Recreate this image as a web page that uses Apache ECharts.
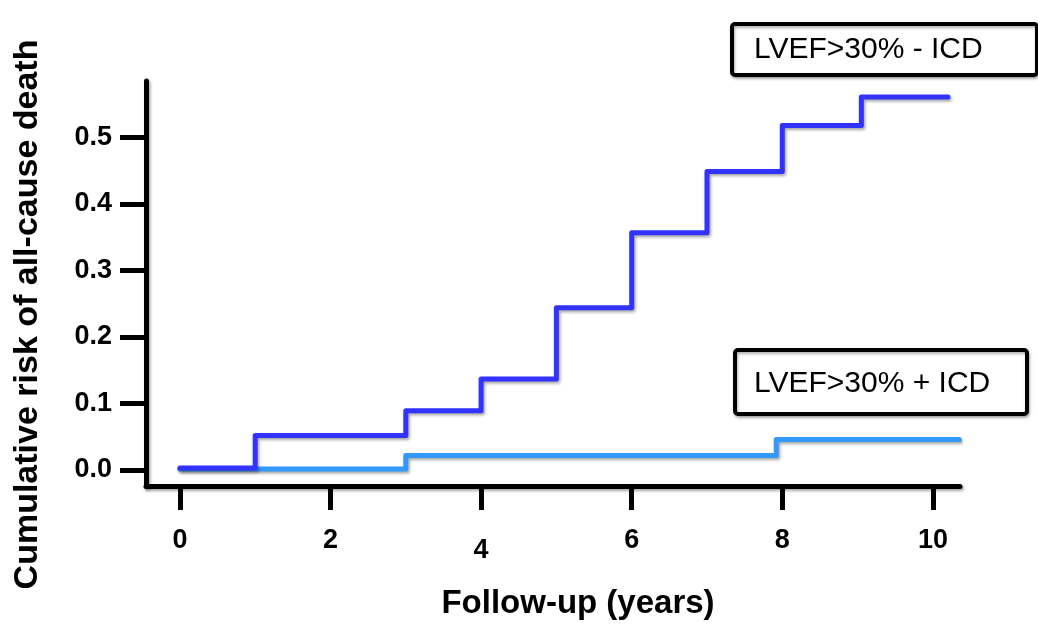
<!DOCTYPE html>
<html>
<head>
<meta charset="utf-8">
<script src="https://cdn.jsdelivr.net/npm/echarts@6/dist/echarts.min.js"></script>
<style>
html,body{margin:0;padding:0;background:#fff;}
#chart{width:1038px;height:625px;}
</style>
</head>
<body>
<div id="chart"></div>
<script>
// Data
const noIcdTimes = [0, 1, 3, 4, 5, 6, 7, 8, 9.05, 10.2];
const noIcdRisk  = [0.003, 0.052, 0.089, 0.137, 0.244, 0.357, 0.449, 0.518, 0.561, 0.561];
const icdTimes   = [0, 3, 7.92, 10.35];
const icdRisk    = [0.0015, 0.022, 0.046, 0.046];
const xTicks = [0, 2, 4, 6, 8, 10];
const yTicks = [0, 0.1, 0.2, 0.3, 0.4, 0.5];
const legendNoIcd = 'LVEF>30% - ICD';
const legendIcd   = 'LVEF>30% + ICD';
const xTitle = 'Follow-up (years)';
const yTitle = 'Cumulative risk of all-cause death';

const toPairs = (xs, ys) => xs.map((x, i) => [x, ys[i]]);
const FONT = "'Liberation Sans', Arial, sans-serif";
const shadow = {shadowBlur: 3, shadowColor: 'rgba(0,0,0,0.35)', shadowOffsetX: 1.5, shadowOffsetY: 2};

const chart = echarts.init(document.getElementById('chart'), null, {renderer: 'canvas'});
chart.setOption({
  animation: false,
  backgroundColor: '#fff',
  grid: {left: 146, right: 78, top: 81, bottom: 136, containLabel: false},
  xAxis: {
    type: 'value', min: -0.45, max: 10.36,
    splitLine: {show: false},
    axisLine: {show: true, onZero: false, lineStyle: Object.assign({color: '#000', width: 5}, shadow)},
    axisTick: {show: true, customValues: xTicks, length: 24, inside: false, lineStyle: {color: '#000', width: 5}},
    axisLabel: {
      customValues: xTicks, margin: 41,
      fontFamily: FONT, fontWeight: 'bold', fontSize: 27, color: '#000',
      formatter: v => (v === 4 ? '{low|4}' : String(v)),
      rich: {low: {fontFamily: FONT, fontWeight: 'bold', fontSize: 27, color: '#000', padding: [10, 0, 0, 0]}}
    },
    name: xTitle, nameLocation: 'middle', nameGap: 101,
    nameTextStyle: {fontFamily: FONT, fontWeight: 'bold', fontSize: 33, color: '#000', padding: [0, 0, 0, 50]}
  },
  yAxis: {
    type: 'value', min: -0.024, max: 0.585,
    splitLine: {show: false},
    axisLine: {show: true, onZero: false, lineStyle: Object.assign({color: '#000', width: 5}, shadow)},
    axisTick: {show: true, customValues: yTicks, length: 26, inside: false, lineStyle: {color: '#000', width: 5}},
    axisLabel: {
      customValues: yTicks, margin: 34,
      fontFamily: FONT, fontWeight: 'bold', fontSize: 27, color: '#000',
      formatter: v => v.toFixed(1)
    },
    name: yTitle, nameLocation: 'middle', nameGap: 101, nameRotate: 90,
    nameTextStyle: {fontFamily: FONT, fontWeight: 'bold', fontSize: 34, color: '#000', padding: [0, 62, 0, 0]}
  },
  series: [
    {
      name: legendIcd, type: 'line', step: 'end', showSymbol: false, symbol: 'none',
      data: toPairs(icdTimes, icdRisk),
      lineStyle: Object.assign({color: '#3399ff', width: 5, join: 'round', cap: 'round'}, shadow),
      z: 2
    },
    {
      name: legendNoIcd, type: 'line', step: 'end', showSymbol: false, symbol: 'none',
      data: toPairs(noIcdTimes, noIcdRisk),
      lineStyle: Object.assign({color: '#3333ff', width: 5, join: 'round', cap: 'round'}, shadow),
      z: 3
    }
  ],
  graphic: [
    {
      type: 'group', left: 730, top: 22,
      children: [
        {type: 'rect', shape: {x: 0, y: 0, width: 305, height: 51, r: 3},
         style: {fill: '#fff', stroke: '#000', lineWidth: 4, shadowBlur: 3, shadowColor: 'rgba(0,0,0,0.3)', shadowOffsetX: 1, shadowOffsetY: 2}},
        {type: 'text', x: 22, y: 26,
         style: {text: legendNoIcd, fontFamily: FONT, fontSize: 30, fill: '#000', verticalAlign: 'middle', align: 'left'}}
      ]
    },
    {
      type: 'group', left: 733, top: 348,
      children: [
        {type: 'rect', shape: {x: 0, y: 0, width: 292, height: 64, r: 3},
         style: {fill: '#fff', stroke: '#000', lineWidth: 4, shadowBlur: 3, shadowColor: 'rgba(0,0,0,0.3)', shadowOffsetX: 1, shadowOffsetY: 2}},
        {type: 'text', x: 19, y: 34,
         style: {text: legendIcd, fontFamily: FONT, fontSize: 30, fill: '#000', verticalAlign: 'middle', align: 'left'}}
      ]
    }
  ]
});
</script>
</body>
</html>
